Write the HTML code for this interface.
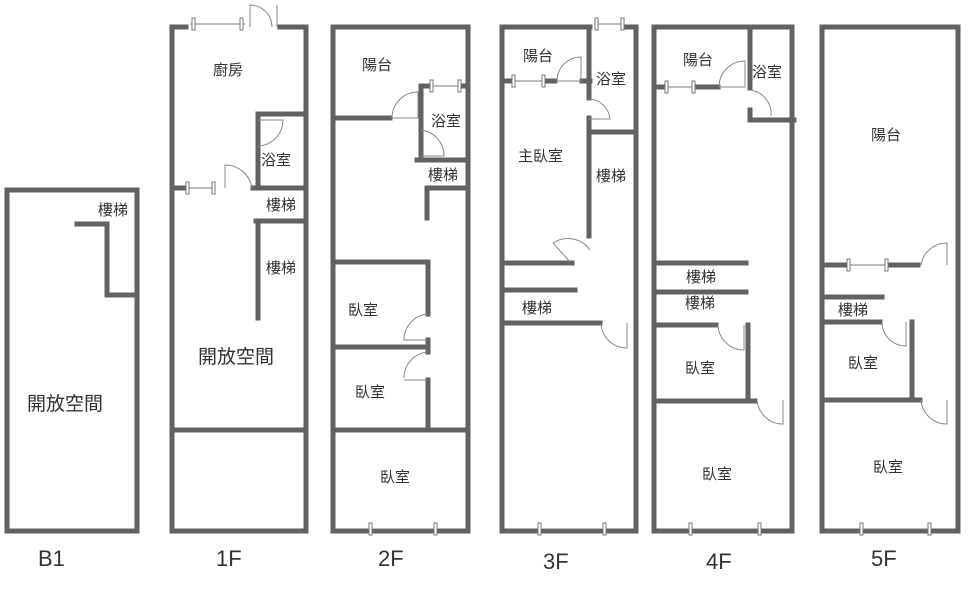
<!DOCTYPE html>
<html><head><meta charset="utf-8"><style>
html,body{margin:0;padding:0;background:#fff;}
svg{display:block;}
text{font-family:"Liberation Sans","Noto Sans CJK TC",sans-serif;fill:#333;}
.w{stroke:#626262;stroke-width:5;fill:none;stroke-linecap:square;}
.d{stroke:#888;stroke-width:1;fill:none;}
.win{stroke:#777;stroke-width:1;fill:#fff;}
</style></head><body>
<svg width="977" height="594" viewBox="0 0 977 594" xmlns="http://www.w3.org/2000/svg">
<!-- B1 -->
<path class="w" d="M7 531 V190 H137 V531 H7"/>
<path class="w" d="M77 224 H107 V295 H137"/>
<text x="98" y="215" font-size="15">樓梯</text>
<text x="27" y="410" font-size="19">開放空間</text>
<text x="38" y="566" font-size="22">B1</text>

<!-- 1F -->
<path class="w" d="M172 27 V531 H306 V27 H280 M172 27 H186"/>
<path class="w" d="M172 430 H306"/>
<path class="w" d="M172 188 H185 M253 188 H306"/>
<path class="w" d="M258 114 V188 M258 114 H306"/>
<path class="w" d="M256 221 H306 M258 221 V318"/>
<line class="win" x1="190" y1="24" x2="245" y2="24"/><rect class="win" x="192" y="18" width="3" height="12"/><rect class="win" x="240" y="18" width="3" height="12"/>
<path class="d" d="M250 27 V5 M250 5 A22 22 0 0 1 272 27"/><line class="d" x1="277" y1="5" x2="277" y2="27"/>
<line class="win" x1="185" y1="188" x2="215" y2="188"/><rect class="win" x="186" y="182" width="3" height="12"/><rect class="win" x="212" y="182" width="3" height="12"/>
<path class="d" d="M225 188 V165 A27 27 0 0 1 252 188"/>
<path class="d" d="M258 120 H283 A26 26 0 0 1 258 146"/>
<text x="213" y="75" font-size="15">廚房</text>
<text x="261" y="165" font-size="15">浴室</text>
<text x="266" y="210" font-size="15">樓梯</text>
<text x="266" y="273" font-size="15">樓梯</text>
<text x="198" y="363" font-size="19">開放空間</text>
<text x="216" y="566" font-size="22">1F</text>

<!-- 2F -->
<path class="w" d="M333 27 H468 V531 H333 Z"/>
<path class="w" d="M333 118 H390"/>
<path class="w" d="M421 86 V158 M421 86 H430 M460 86 H468 M417 160 H468"/>
<path class="w" d="M427 218 V188 H468"/>
<path class="w" d="M333 262 H428 V314 M428 340 V352 M428 380 V430"/>
<path class="w" d="M333 347 H426"/>
<path class="w" d="M333 430 H468"/>
<line class="win" x1="430" y1="86" x2="460" y2="86"/><rect class="win" x="430" y="80" width="3" height="12"/><rect class="win" x="458" y="80" width="3" height="12"/>
<path class="d" d="M392 118 A26 26 0 0 1 418 92 V118 H392"/>
<path class="d" d="M421 130 A26 26 0 0 1 444 156 H421"/>
<path class="d" d="M428 314 A26 26 0 0 0 404 340 H428"/>
<path class="d" d="M428 352 A26 26 0 0 0 404 378"/><line class="d" x1="428" y1="380" x2="404" y2="380"/>
<line class="win" x1="370" y1="529" x2="437" y2="529"/><rect class="win" x="369" y="523" width="3" height="12"/><rect class="win" x="434" y="523" width="3" height="12"/>
<text x="362" y="70" font-size="15">陽台</text>
<text x="431" y="126" font-size="15">浴室</text>
<text x="428" y="180" font-size="15">樓梯</text>
<text x="348" y="315" font-size="15">臥室</text>
<text x="355" y="397" font-size="15">臥室</text>
<text x="380" y="482" font-size="15">臥室</text>
<text x="378" y="566" font-size="22">2F</text>

<!-- 3F -->
<path class="w" d="M502 531 V27 H590 M626 27 H636 V531 H502"/>
<path class="w" d="M589 27 V98 M589 118 V236"/>
<path class="w" d="M504 81 H513 M545 81 H555 M582 81 H590"/>
<path class="w" d="M590 132 H636"/>
<path class="w" d="M504 263 H572 M504 290 H575 M504 323 H600"/>
<line class="win" x1="512" y1="81" x2="545" y2="81"/><rect class="win" x="512" y="75" width="3" height="12"/><rect class="win" x="542" y="75" width="3" height="12"/>
<line class="win" x1="594" y1="24" x2="623" y2="24"/><rect class="win" x="595" y="18" width="3" height="12"/><rect class="win" x="621" y="18" width="3" height="12"/>
<path class="d" d="M557 81 A24 24 0 0 1 581 57 V81 H557"/>
<path class="d" d="M589 99 A22 22 0 0 1 610 119 H589"/>
<path class="d" d="M553 243 A27 27 0 0 1 590 250 M553 243 L570 262"/>
<path class="d" d="M601 323 A26 26 0 0 0 627 348 V323"/>
<line class="win" x1="540" y1="529" x2="605" y2="529"/><rect class="win" x="538" y="523" width="3" height="12"/><rect class="win" x="603" y="523" width="3" height="12"/>
<text x="523" y="61" font-size="15">陽台</text>
<text x="596" y="84" font-size="15">浴室</text>
<text x="518" y="161" font-size="15">主臥室</text>
<text x="596" y="181" font-size="15">樓梯</text>
<text x="522" y="313" font-size="15">樓梯</text>
<text x="543" y="569" font-size="22">3F</text>

<!-- 4F -->
<path class="w" d="M654 531 V27 H792 V531 H654"/>
<path class="w" d="M750 27 V88 M656 87 H665 M695 87 H718"/>
<path class="w" d="M750 110 V120 H794"/>
<path class="w" d="M656 263 H746 M656 292 H746 M656 325 H716"/>
<path class="w" d="M748 325 V400 M656 401 H755"/>
<line class="win" x1="665" y1="87" x2="695" y2="87"/><rect class="win" x="665" y="81" width="3" height="12"/><rect class="win" x="692" y="81" width="3" height="12"/>
<path class="d" d="M719 87 A26 26 0 0 1 745 61 V87 H719"/>
<path class="d" d="M750 90 A24 24 0 0 1 771 116"/>
<path class="d" d="M718 325 A26 26 0 0 0 744 350 V325"/>
<path class="d" d="M757 400 A26 26 0 0 0 783 424 V400"/>
<line class="win" x1="690" y1="529" x2="760" y2="529"/><rect class="win" x="689" y="523" width="3" height="12"/><rect class="win" x="758" y="523" width="3" height="12"/>
<text x="683" y="65" font-size="15">陽台</text>
<text x="752" y="77" font-size="15">浴室</text>
<text x="686" y="282" font-size="15">樓梯</text>
<text x="685" y="308" font-size="15">樓梯</text>
<text x="685" y="373" font-size="15">臥室</text>
<text x="702" y="479" font-size="15">臥室</text>
<text x="706" y="569" font-size="22">4F</text>

<!-- 5F -->
<path class="w" d="M822 531 V27 H958 V531 H822"/>
<path class="w" d="M824 265 H848 M888 265 H918"/>
<path class="w" d="M824 297 H882 M824 322 H880"/>
<path class="w" d="M912 322 V400 M824 400 H920"/>
<line class="win" x1="848" y1="265" x2="888" y2="265"/><rect class="win" x="847" y="259" width="3" height="12"/><rect class="win" x="885" y="259" width="3" height="12"/>
<path class="d" d="M921 265 A26 26 0 0 1 947 243 V265"/>
<path class="d" d="M882 322 A24 24 0 0 0 906 346 V322"/>
<path class="d" d="M921 400 A26 26 0 0 0 947 424 V400"/>
<line class="win" x1="862" y1="529" x2="930" y2="529"/><rect class="win" x="860" y="523" width="3" height="12"/><rect class="win" x="928" y="523" width="3" height="12"/>
<text x="871" y="140" font-size="15">陽台</text>
<text x="838" y="315" font-size="15">樓梯</text>
<text x="848" y="368" font-size="15">臥室</text>
<text x="873" y="472" font-size="15">臥室</text>
<text x="871" y="566" font-size="22">5F</text>
</svg>
</body></html>
